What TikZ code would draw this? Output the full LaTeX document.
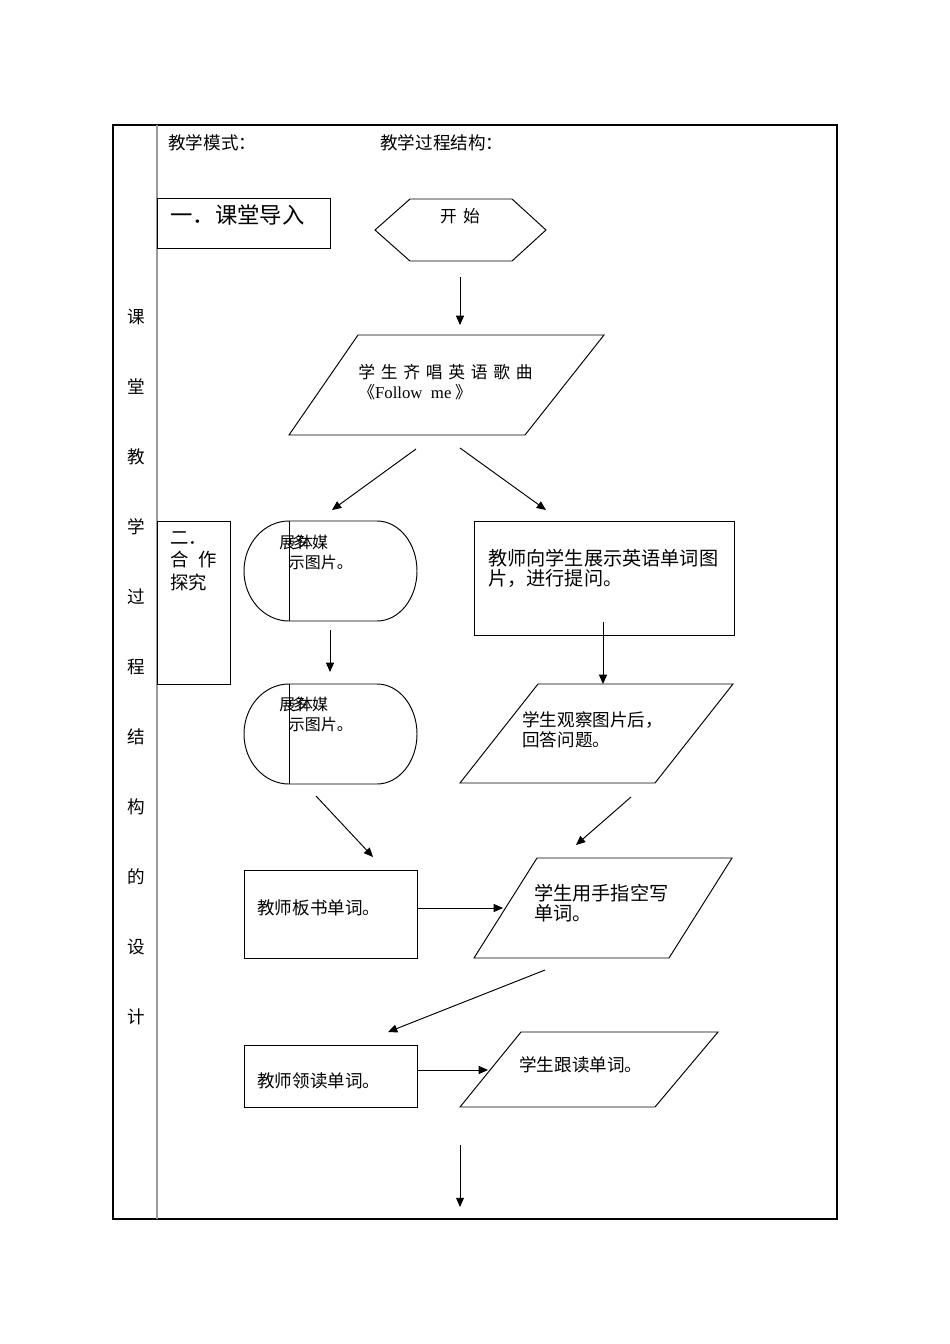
\documentclass[tikz,border=0pt]{standalone}
\usepackage{fontspec}
\setmainfont{Noto Sans CJK SC}
\newfontfamily\latinfont{Liberation Serif}
\usetikzlibrary{arrows.meta}
\usetikzlibrary{positioning}
\usetikzlibrary{fit}

\newcommand\gapx{\hspace{3.6pt}}

\tikzset{
  frame/.style={line width=0.9pt},
  rule/.style={line width=0.8pt,gray!80},
  line/.style={line width=0.6pt},
  box/.style={draw,line width=0.6pt,inner sep=0pt},
  arr/.style={line width=0.6pt,-{Triangle[length=5.8pt,width=5pt]}},
  txt/.style={anchor=west,inner sep=0pt,align=left},
  fs/.style={font=\fontsize{10.5}{12.5}\selectfont},
  fh/.style={font=\fontsize{11}{12.5}\selectfont},
  fm/.style={font=\fontsize{11}{12.5}\selectfont},
  fl/.style={font=\fontsize{12}{12.5}\selectfont},
  fb/.style={font=\fontsize{14}{14}\selectfont},
}

\begin{document}
\begin{tikzpicture}[x=0.6263pt,y=-0.6263pt]
\useasboundingbox (0,0) rectangle (950,1344);
% table
\draw[frame] (113,125) rectangle (837,1219);
\draw[rule] (157,125) -- (157,1219);
\foreach \c [count=\i from 0] in {课,堂,教,学,过,程,结,构,的,设,计}
  \node[fh,inner sep=0pt] (side\i) at (136,317+70*\i) {\c};
\node[txt,fh] (mode) at (168,143) {教学模式：};
\node[txt,fh] (struct) at (380,143) {教学过程结构：};

% part one
\node[box,fit={(157,198) (330,248)}] (intro) {};
\node[txt,fb] (intro-t) at (170,215) {一．课堂导入};
\draw[line] (375,230) -- (410,199) -- (512,199) -- (546,230) -- (512,261) -- (410,261) -- cycle;
\node[fs,inner sep=0pt] (start) at (460,216) {开\hspace{4pt}始};
\draw[line] (358,335) -- (604,335) -- (525,435) -- (289,435) -- cycle;
\node[txt,fs] (song) at (358,382) {学\gapx 生\gapx 齐\gapx 唱\gapx 英\gapx 语\gapx 歌\gapx 曲\\《{\latinfont Follow\ \ me}\ 》};

% part two
\node[box,fit={(157,521) (230,684)}] (coop) {};
\node[txt,font=\fontsize{11.5}{14}\selectfont] (coop-t) at (170,561) {二．\\合\hspace{6pt}作\\探究};
\foreach \y in {521,684} {
  \draw[line] (289,\y) -- (377,\y) arc[start angle=-90,end angle=90,x radius=40,y radius=50]
    -- (289,\y+100) arc[start angle=90,end angle=270,x radius=45,y radius=50] -- cycle;
  \draw[line] (289,\y) -- (289,\y+100);
}
\node[txt,font=\fontsize{10}{12.5}\selectfont] (media1) at (279,552) {展\kern-2.5pt 多\kern-6.3pt 体\kern-0.6pt 媒\\\hspace{6pt}示图片。};
\node[txt,font=\fontsize{10}{12.5}\selectfont] (media2) at (279,714) {展\kern-2.5pt 多\kern-6.3pt 体\kern-0.6pt 媒\\\hspace{6pt}示图片。};

\node[box,fit={(474,521) (734,635)}] (show) {};
\node[txt,fl] (show-t) at (488,568.5) {教师向学生展示英语单词图\\片，进行提问。};
\draw[line] (538,684) -- (733,684) -- (655,783) -- (460,783) -- cycle;
\node[txt,fm] (observe) at (522,730) {学生观察图片后，\\回答问题。};

\node[box,fit={(244,870) (417,958)}] (board) {};
\node[txt,fm] (board-t) at (257,908) {教师板书单词。};
\draw[line] (537,858) -- (732,858) -- (669,958) -- (474,958) -- cycle;
\node[txt,fl] (air) at (534,903.5) {学生用手指空写\\单词。};

\node[box,fit={(244,1045) (417,1107)}] (lead) {};
\node[txt,fm] (lead-t) at (257,1081) {教师领读单词。};
\draw[line] (521,1032) -- (718,1032) -- (655,1107) -- (460,1107) -- cycle;
\node[txt,fm] (follow) at (519,1065) {学生跟读单词。};

% arrows
\coordinate (a1) at (460,277);  \coordinate (b1) at (460,325);
\coordinate (a2) at (416,449);  \coordinate (b2) at (332,510);
\coordinate (a3) at (460,448);  \coordinate (b3) at (546,510);
\coordinate (a4) at (330,630);  \coordinate (b4) at (330,672);
\coordinate (a5) at (603,622);  \coordinate (b5) at (603,684);
\coordinate (a6) at (316,796);  \coordinate (b6) at (373,857);
\coordinate (a7) at (631,797);  \coordinate (b7) at (576,845);
\coordinate (a8) at (417,908);  \coordinate (b8) at (503,908);
\coordinate (a9) at (545,970);  \coordinate (b9) at (388,1032);
\coordinate (a10) at (417,1070); \coordinate (b10) at (488,1070);
\coordinate (a11) at (460,1145); \coordinate (b11) at (460,1207);
\foreach \i in {1,...,11}
  \draw[arr] (a\i) -- (b\i);
\end{tikzpicture}
\end{document}
